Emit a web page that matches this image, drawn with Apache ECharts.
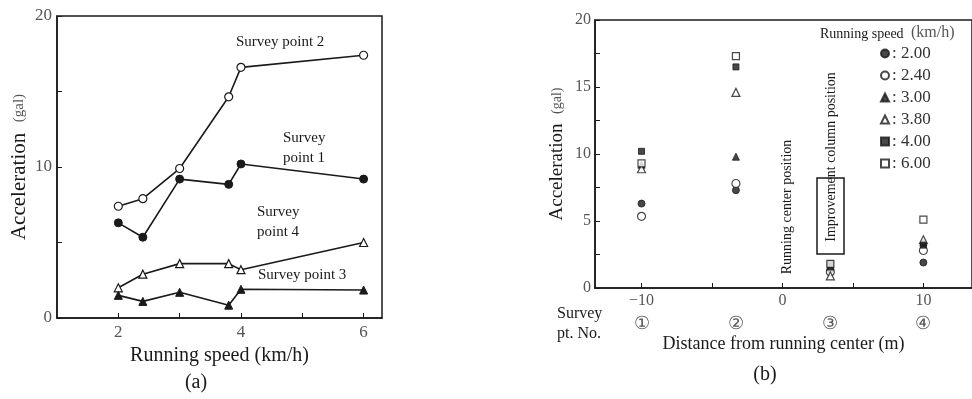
<!DOCTYPE html>
<html>
<head>
<meta charset="utf-8">
<script src="https://cdn.jsdelivr.net/npm/echarts@6/dist/echarts.min.js"></script>
<style>
    html, body { margin: 0; padding: 0; background: #fff; }
    #chart { width: 972px; height: 399px; }
</style>
</head>
<body>
<div id="chart"></div>
<script>
    // (a) acceleration vs running speed, one line per survey point
    const speeds = [2.0, 2.4, 3.0, 3.8, 4.0, 6.0];
    const point1 = [6.3, 5.35, 9.2, 8.85, 10.2, 9.2];
    const point2 = [7.4, 7.9, 9.9, 14.65, 16.6, 17.4];
    const point3 = [1.5, 1.1, 1.7, 0.85, 1.9, 1.85];
    const point4 = [2.0, 2.9, 3.6, 3.6, 3.2, 5.0];
    const speedTicks = [2, 3, 4, 5, 6];
    const speedLabels = [2, 4, 6];

    // (b) acceleration vs distance from running center, one series per speed
    const surveyDist = [-10, -3.3, 3.4, 10];
    const surveyNo = ['①', '②', '③', '④'];
    const distTicks = [-10, -5, 0, 5, 10];
    const distLabels = [-10, 0, 10];
    const speedNames = ['2.00', '2.40', '3.00', '3.80', '4.00', '6.00'];
    const sp200 = [6.3, 7.3, 1.4, 1.9];
    const sp240 = [5.35, 7.8, 1.2, 2.8];
    const sp300 = [9.2, 9.8, 1.6, 3.4];
    const sp380 = [8.9, 14.6, 0.9, 3.6];
    const sp400 = [10.2, 16.5, 1.8, 3.2];
    const sp600 = [9.3, 17.3, 1.8, 5.1];

    const serif = '"Liberation Serif", "Times New Roman", serif';
    const ink = '#1a1a1a';
    const grey = '#555';

    const zip = (xs, ys) => xs.map((x, i) => [x, ys[i]]);
    const filled = { color: ink, borderColor: ink, borderWidth: 1 };
    const hollow = { color: '#fff', borderColor: ink, borderWidth: 1.2 };

    function lineSeries(name, ys, symbol, style) {
        return {
            name: name,
            type: 'line',
            xAxisIndex: 0,
            yAxisIndex: 0,
            symbol: symbol,
            symbolSize: 8,
            lineStyle: { color: ink, width: 1.6 },
            itemStyle: style,
            z: style === hollow ? 3 : 4,
            data: zip(speeds, ys)
        };
    }

    function scatterSeries(name, ys, symbol, style, size) {
        return {
            name: name,
            type: 'scatter',
            xAxisIndex: 1,
            yAxisIndex: 1,
            symbol: symbol,
            symbolSize: size,
            itemStyle: style,
            data: zip(surveyDist, ys)
        };
    }

    const myChart = echarts.init(document.getElementById('chart'));
    myChart.setOption({
        animation: false,
        backgroundColor: '#fff',
        textStyle: { fontFamily: serif },
        grid: [
            { left: 57, top: 16, width: 325, height: 302, show: true, borderColor: ink, borderWidth: 1.5 },
            { left: 595, top: 20, width: 380, height: 268, show: true, borderColor: ink, borderWidth: 1.5 }
        ],
        legend: {
            data: speedNames,
            orient: 'vertical',
            left: 875,
            top: 40,
            itemGap: 5,
            itemWidth: 8,
            itemHeight: 8,
            formatter: ': {name}',
            textStyle: { fontFamily: serif, fontSize: 17, color: '#333', padding: [0, 0, 0, -2] }
        },
        xAxis: [
            {
                gridIndex: 0, type: 'value', min: 1, max: 6.3,
                name: 'Running speed (km/h)', nameLocation: 'middle', nameGap: 28,
                nameTextStyle: { fontFamily: serif, fontSize: 20, color: ink },
                axisLine: { onZero: false, lineStyle: { color: ink, width: 1.5 } },
                axisTick: { inside: true, length: 5, customValues: speedTicks, lineStyle: { color: ink } },
                axisLabel: { customValues: speedLabels, margin: 6, fontSize: 17, color: grey },
                splitLine: { show: false }
            },
            {
                gridIndex: 1, type: 'value', min: -13.3, max: 13.45,
                name: 'Distance from running center (m)', nameLocation: 'middle', nameGap: 47,
                nameTextStyle: { fontFamily: serif, fontSize: 18, color: ink },
                axisLine: { onZero: false, lineStyle: { color: ink, width: 1.5 } },
                axisTick: { inside: true, length: 5, customValues: distTicks, lineStyle: { color: ink } },
                axisLabel: {
                    customValues: distLabels, margin: 5, fontSize: 16, color: grey,
                    formatter: v => (v < 0 ? '\u2212' + Math.abs(v) : String(v))
                },
                splitLine: { show: false }
            },
            {
                // survey point numbers under the distance axis
                gridIndex: 1, type: 'value', position: 'bottom', min: -13.3, max: 13.45, offset: 25,
                axisLine: { show: false, onZero: false },
                axisTick: { show: false },
                axisLabel: {
                    customValues: surveyDist, margin: 2, fontSize: 18, color: grey,
                    formatter: v => surveyNo[surveyDist.indexOf(v)]
                },
                splitLine: { show: false }
            }
        ],
        yAxis: [
            {
                gridIndex: 0, type: 'value', min: 0, max: 20, interval: 5,
                name: 'Acceleration  {s|(gal)}', nameLocation: 'middle', nameGap: 27,
                nameTextStyle: {
                    fontFamily: serif, fontSize: 21, color: ink,
                    rich: { s: { fontFamily: serif, fontSize: 15, color: grey } }
                },
                axisLine: { onZero: false, lineStyle: { color: ink, width: 1.5 } },
                axisTick: { inside: true, length: 5, lineStyle: { color: ink } },
                axisLabel: {
                    margin: 5, fontSize: 17, color: grey,
                    formatter: v => (v % 10 === 0 ? String(v) : '')
                },
                splitLine: { show: false }
            },
            {
                gridIndex: 1, type: 'value', min: 0, max: 20, interval: 2.5,
                name: 'Acceleration  {s|(gal)}', nameLocation: 'middle', nameGap: 28,
                nameTextStyle: {
                    fontFamily: serif, fontSize: 19, color: ink,
                    rich: { s: { fontFamily: serif, fontSize: 14, color: grey } }
                },
                axisLine: { onZero: false, lineStyle: { color: ink, width: 1.5 } },
                axisTick: { inside: true, length: 5, lineStyle: { color: ink } },
                axisLabel: {
                    margin: 4, fontSize: 16, color: grey,
                    formatter: v => (v % 5 === 0 ? String(v) : '')
                },
                splitLine: { show: false }
            }
        ],
        series: [
            lineSeries('Survey point 1', point1, 'circle', filled),
            lineSeries('Survey point 2', point2, 'circle', hollow),
            lineSeries('Survey point 3', point3, 'triangle', filled),
            lineSeries('Survey point 4', point4, 'triangle', hollow),
            scatterSeries('2.00', sp200, 'circle', filled, 7),
            scatterSeries('2.40', sp240, 'circle', hollow, 8),
            scatterSeries('3.00', sp300, 'triangle', filled, 7),
            scatterSeries('3.80', sp380, 'triangle', hollow, 8),
            scatterSeries('4.00', sp400, 'rect', filled, 6),
            scatterSeries('6.00', sp600, 'rect', hollow, 7)
        ],
        graphic: [
            { type: 'text', left: 236, top: 35, style: { text: 'Survey point 2', font: '15px ' + serif, fill: ink } },
            { type: 'text', left: 283, top: 128, style: { text: 'Survey\npoint 1', font: '15px ' + serif, fill: ink, lineHeight: 20 } },
            { type: 'text', left: 257, top: 202, style: { text: 'Survey\npoint 4', font: '15px ' + serif, fill: ink, lineHeight: 20 } },
            { type: 'text', left: 258, top: 268, style: { text: 'Survey point 3', font: '15px ' + serif, fill: ink } },
            { type: 'text', x: 196, y: 383, style: { text: '(a)', font: '20px ' + serif, fill: ink, textAlign: 'center', textVerticalAlign: 'middle' } },
            { type: 'text', x: 765, y: 375, style: { text: '(b)', font: '20px ' + serif, fill: ink, textAlign: 'center', textVerticalAlign: 'middle' } },
            { type: 'text', left: 557, top: 304, style: { text: 'Survey\npt. No.', font: '16px ' + serif, fill: ink, lineHeight: 20 } },
            { type: 'text', x: 787, y: 207, rotation: Math.PI / 2, style: { text: 'Running center position', font: '14px ' + serif, fill: ink, textAlign: 'center', textVerticalAlign: 'middle' } },
            { type: 'rect', shape: { x: 817, y: 178, width: 27, height: 76 }, style: { fill: 'none', stroke: ink, lineWidth: 1.5 } },
            { type: 'text', x: 831, y: 157, rotation: Math.PI / 2, style: { text: 'Improvement column position', font: '14px ' + serif, fill: ink, textAlign: 'center', textVerticalAlign: 'middle' } },
            { type: 'text', left: 820, top: 27, style: { text: 'Running speed', font: '14px ' + serif, fill: ink } },
            { type: 'text', left: 911, top: 25, style: { text: '(km/h)', font: '16px ' + serif, fill: grey } }
        ]
    });
</script>
</body>
</html>
